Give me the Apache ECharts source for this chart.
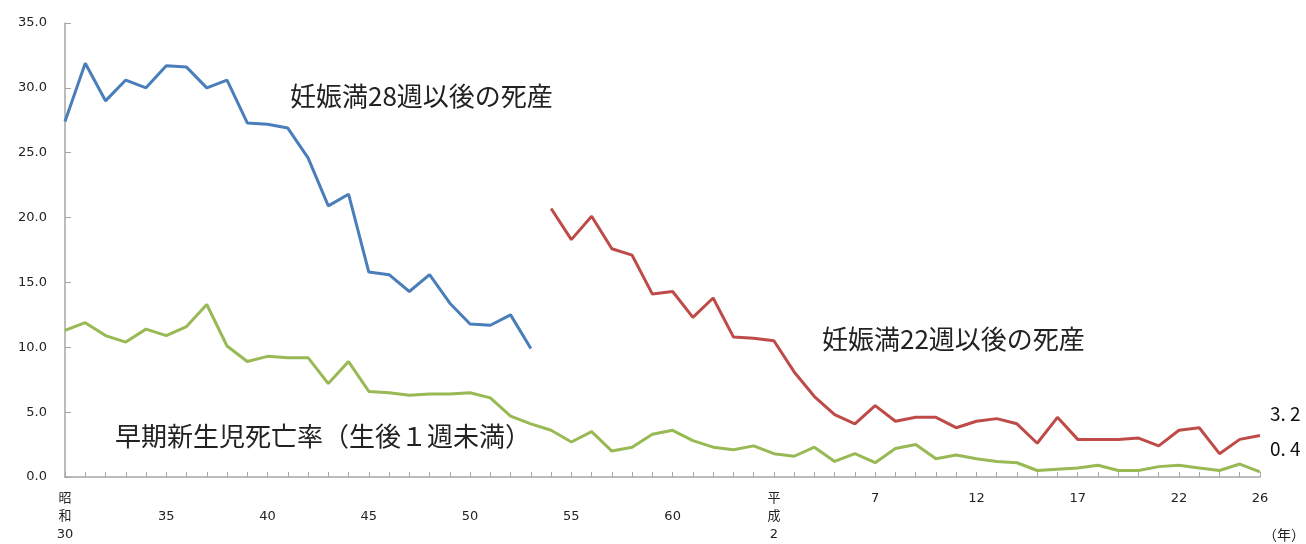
<!DOCTYPE html>
<html><head><meta charset="utf-8">
<script src="https://cdn.jsdelivr.net/npm/echarts@6/dist/echarts.min.js"></script>
<style>html,body{margin:0;padding:0;background:#fff}#c{width:1306px;height:544px}</style>
</head><body><div id="c"></div>
<script>
// Years: 昭和30 (1955) .. 平成26 (2014)
const years = [];
for (let y = 1955; y <= 2014; y++) years.push(y);

// 妊娠満28週以後の死産 (1955-1978)
const stillbirth28 = [27.4, 31.9, 29.0, 30.6, 30.0, 31.7, 31.6, 30.0, 30.6, 27.3, 27.2, 26.9, 24.6, 20.9, 21.8, 15.8, 15.6, 14.3, 15.6, 13.4, 11.8, 11.7, 12.5, 9.9];
// 妊娠満22週以後の死産 (1979-2014)
const stillbirth22 = [20.7, 18.3, 20.1, 17.6, 17.1, 14.1, 14.3, 12.3, 13.8, 10.8, 10.7, 10.5, 8.1, 6.2, 4.8, 4.1, 5.5, 4.3, 4.6, 4.6, 3.8, 4.3, 4.5, 4.1, 2.6, 4.6, 2.9, 2.9, 2.9, 3.0, 2.4, 3.6, 3.8, 1.8, 2.9, 3.2];
// 早期新生児死亡率 (1955-2014)
const earlyNeonatal = [11.3, 11.9, 10.9, 10.4, 11.4, 10.9, 11.6, 13.3, 10.1, 8.9,
  9.3, 9.2, 9.2, 7.2, 8.9, 6.6, 6.5, 6.3, 6.4, 6.4,
  6.5, 6.1, 4.7, 4.1, 3.6, 2.7, 3.5, 2.0, 2.3, 3.3,
  3.6, 2.8, 2.3, 2.1, 2.4, 1.8, 1.6, 2.3, 1.2, 1.8,
  1.1, 2.2, 2.5, 1.4, 1.7, 1.4, 1.2, 1.1, 0.5, 0.6,
  0.7, 0.9, 0.5, 0.5, 0.8, 0.9, 0.7, 0.5, 1.0, 0.4];

// x tick labels
const labelYears = [1955, 1960, 1965, 1970, 1975, 1980, 1985, 1990, 1995, 2000, 2005, 2010, 2014];
const labelTexts = ['昭\n和\n30', '\n35', '\n40', '\n45', '\n50', '\n55', '\n60', '平\n成\n2', '7', '12', '17', '22', '26'];

const n = years.length;
const blueData = years.map((y, i) => i < stillbirth28.length ? stillbirth28[i] : null);
const redStart = n - stillbirth22.length;
const redData = years.map((y, i) => i >= redStart ? stillbirth22[i - redStart] : null);

const cjk = '"Noto Sans CJK JP"';
const axisGray = '#a6a6a6';
const chart = echarts.init(document.getElementById('c'), null, {renderer: 'canvas'});
chart.setOption({
  animation: false,
  backgroundColor: '#fff',
  grid: {left: 65, right: 46, top: 23, bottom: 61, containLabel: false},
  xAxis: {
    type: 'category',
    data: years.map(String),
    boundaryGap: false,
    axisLine: {lineStyle: {color: axisGray, width: 1.5}},
    axisTick: {inside: true, length: 5, interval: 0, lineStyle: {color: axisGray}},
    axisLabel: {
      interval: 0,
      margin: 13,
      color: '#222',
      fontSize: 13,
      fontFamily: 'DejaVu Sans, ' + cjk,
      lineHeight: 18,
      verticalAlign: 'top',
      formatter: function (v) {
        const k = labelYears.indexOf(+v);
        return k >= 0 ? labelTexts[k] : '';
      }
    },
    splitLine: {show: false}
  },
  yAxis: {
    type: 'value',
    min: 0, max: 35, interval: 5,
    axisLine: {show: true, lineStyle: {color: axisGray, width: 1.5}},
    axisTick: {show: true, inside: true, length: 6, lineStyle: {color: axisGray}},
    axisLabel: {
      color: '#222', fontSize: 13, fontFamily: 'DejaVu Sans', margin: 18,
      formatter: v => v.toFixed(1)
    },
    splitLine: {show: false}
  },
  series: [
    {name: '妊娠満28週以後の死産', type: 'line', data: blueData, showSymbol: false, symbol: 'none',
     lineStyle: {color: '#4a7ebb', width: 3}, connectNulls: false},
    {name: '妊娠満22週以後の死産', type: 'line', data: redData, showSymbol: false, symbol: 'none',
     lineStyle: {color: '#be4b48', width: 3}, connectNulls: false},
    {name: '早期新生児死亡率', type: 'line', data: earlyNeonatal, showSymbol: false, symbol: 'none',
     lineStyle: {color: '#98b954', width: 3}}
  ],
  graphic: [
    {type: 'text', left: 290, top: 83, style: {text: '妊娠満28週以後の死産', fill: '#222', font: '26px ' + cjk}},
    {type: 'text', left: 822, top: 326, style: {text: '妊娠満22週以後の死産', fill: '#222', font: '26px ' + cjk}},
    {type: 'text', left: 115, top: 423, style: {text: '早期新生児死亡率（生後１週未満）', fill: '#222', font: '26px ' + cjk}},
    {type: 'text', left: 1270, top: 404, style: {text: '3. 2', fill: '#111', font: '19px ' + cjk}},
    {type: 'text', left: 1270, top: 439, style: {text: '0. 4', fill: '#111', font: '19px ' + cjk}},
    {type: 'text', left: 1263, top: 528, style: {text: '（年）', fill: '#222', font: '14px ' + cjk}}
  ]
});
</script>
</body></html>
